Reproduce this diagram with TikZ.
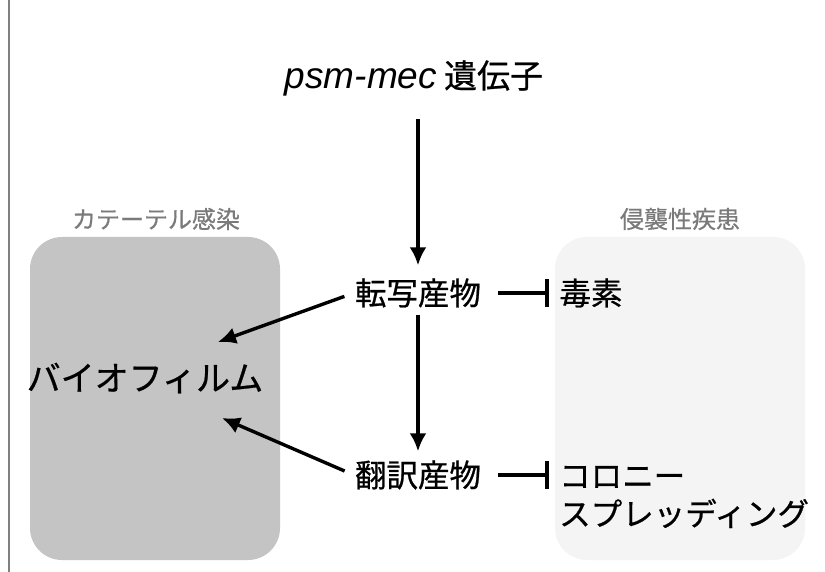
\documentclass[tikz,border=0pt]{standalone}
\usepackage{fontspec}
\setmainfont{Liberation Sans}
\newfontfamily\jp{Noto Sans CJK JP}[FakeBold=0.7]
\newfontfamily\jplight{Noto Sans CJK JP}[FakeBold=0.5]
\usetikzlibrary{arrows.meta}
\definecolor{boxdark}{HTML}{C4C4C4}
\definecolor{boxlight}{HTML}{F4F4F4}
\definecolor{labelgray}{HTML}{7A7A7A}
\begin{document}
\begin{tikzpicture}[x=1pt,y=-1pt,
  lbl/.style={font=\jp\fontsize{31.5}{36}\selectfont, text=black, inner sep=1pt},
  grp/.style={font=\jplight\fontsize{24}{28}\selectfont, text=labelgray, inner sep=1pt},
  act/.style={line width=3.4pt, -{Latex[length=18pt,width=17pt]}},
  inh/.style={line width=3.4pt, -{Bar[width=28pt,line width=3.6pt]}},
  area/.style={rounded corners=32pt}]
\useasboundingbox (0,0) rectangle (825,572);
\fill[white] (0,0) rectangle (825,572);
\draw[gray, line width=1.4pt] (9,0) -- (9,572);
\fill[boxdark, area] (30,237) rectangle (280,560);
\fill[boxlight, area] (555,237) rectangle (805,560);
\node[grp] (g1) at (156,219) {カテーテル感染};
\node[grp] (g2) at (680,219) {侵襲性疾患};
\node[lbl] (gene) at (414,78) {{\rmfamily\itshape\fontsize{37}{40}\selectfont psm-mec}\ {\fontsize{33}{38}\selectfont 遺伝子}};
\node[lbl] (tr) at (418,293) {転写産物};
\node[lbl] (tl) at (418,475) {翻訳産物};
\node[lbl] (tox) at (591,293) {毒素};
\node[lbl, font=\jp\fontsize{34}{38}\selectfont] (bio) at (145,378) {バイオフィルム};
\node[lbl, align=left, anchor=west] (col) at (558,497) {コロニー\\[2pt]スプレッディング};
\coordinate (inh1) at (549,293);
\coordinate (inh2) at (549,475);
\draw[act, shorten <=22pt, shorten >=12pt] (gene.south -| tr.north) -- (tr.north);
\draw[act, shorten <=6pt, shorten >=8pt] (tr.south) -- (tl.north);
\draw[act, shorten <=10pt] (tr.west) -- (218,342);
\draw[act, shorten <=10pt] (tl.west) -- (222,418);
\draw[inh, shorten <=16pt] (tr.east) -- (inh1);
\draw[inh, shorten <=16pt] (tl.east) -- (inh2);
\end{tikzpicture}
\end{document}
